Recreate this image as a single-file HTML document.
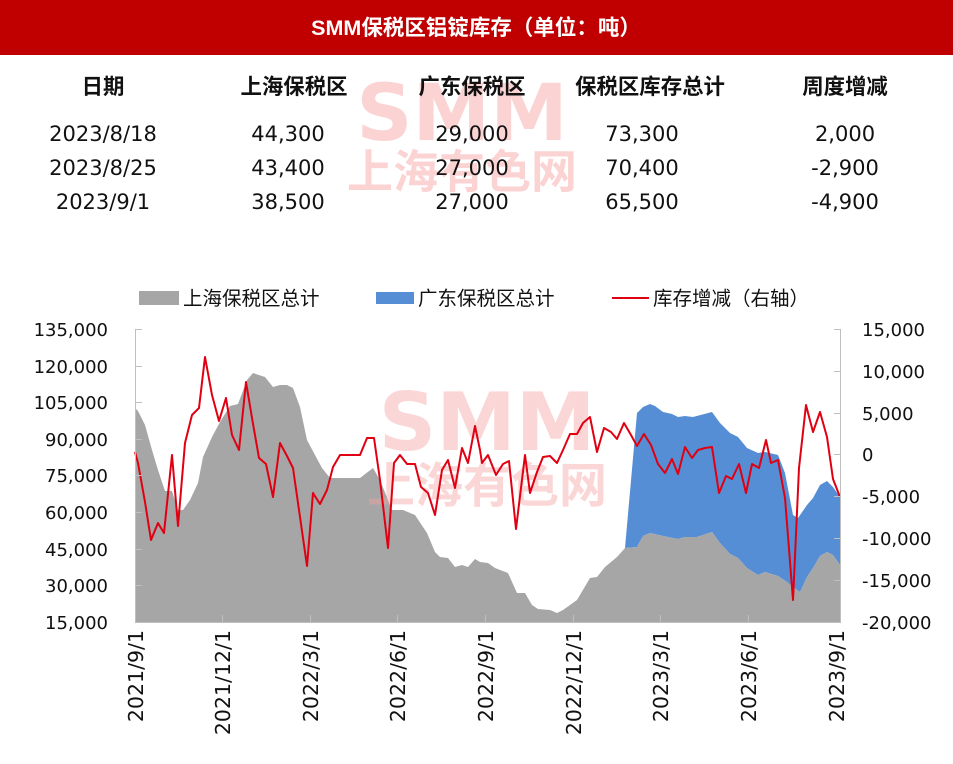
<!DOCTYPE html>
<html><head><meta charset="utf-8"><style>
body{margin:0;width:953px;height:764px;background:#fff;overflow:hidden;font-family:"Liberation Sans","Noto Sans CJK SC",sans-serif;}
</style></head><body>
<svg width="953" height="764" xmlns="http://www.w3.org/2000/svg" style="position:absolute;left:0;top:0" font-family="Liberation Sans, Noto Sans CJK SC, sans-serif">
<rect x="0" y="0" width="953" height="55" fill="#C00000"/>
<text x="476" y="35" fill="#fff" font-size="21.5" font-weight="bold" text-anchor="middle">SMM保税区铝锭库存（单位：吨）</text>
<g fill="#f7a0a0" opacity="0.45" font-weight="bold" text-anchor="middle">
<text x="462" y="140" font-size="78" font-family="DejaVu Sans, sans-serif">SMM</text>
<text x="462" y="188" font-size="46">上海有色网</text>
</g>
<g font-size="21.4" font-weight="bold" text-anchor="middle" fill="#111">
<text x="103" y="94">日期</text><text x="294" y="94">上海保税区</text><text x="472" y="94">广东保税区</text><text x="650" y="94">保税区库存总计</text><text x="845" y="94">周度增减</text>
</g>
<g font-size="21" text-anchor="middle" fill="#111" font-family="DejaVu Sans, sans-serif">
<text x="103" y="141">2023/8/18</text><text x="288" y="141">44,300</text><text x="472" y="141">29,000</text><text x="642" y="141">73,300</text><text x="845" y="141">2,000</text>
<text x="103" y="175">2023/8/25</text><text x="288" y="175">43,400</text><text x="472" y="175">27,000</text><text x="642" y="175">70,400</text><text x="845" y="175">-2,900</text>
<text x="103" y="209">2023/9/1</text><text x="288" y="209">38,500</text><text x="472" y="209">27,000</text><text x="642" y="209">65,500</text><text x="845" y="209">-4,900</text>
</g>
<!-- legend -->
<rect x="139" y="291" width="40" height="14" fill="#A6A6A6"/>
<text x="183" y="305" font-size="19.5" fill="#111">上海保税区总计</text>
<rect x="376" y="292" width="38" height="12" fill="#558ED5"/>
<text x="418" y="305" font-size="19.5" fill="#111">广东保税区总计</text>
<line x1="612" y1="298" x2="649" y2="298" stroke="#E00012" stroke-width="2"/>
<text x="653" y="305" font-size="19.5" fill="#111">库存增减（右轴）</text>
<!-- blue area -->
<path fill="#558ED5" d="M625,548 L637,413 643,407 650,404 655,406 663,412 672,414 678,417 685,416 693,417 712,412 720,423 730,433 738,437 747,448 758,453 765,452 778,455 785,473 793,515 798,518 807,505 813,498 820,485 827,481 833,487 840,497 L840,565 833,555 827,552 820,556 813,568 807,577 800,592 793,587 787,582 778,576 765,572 758,575 747,568 738,558 730,554 720,543 712,532 697,537 685,537 678,539 663,536 650,533 643,536 637,547 Z"/>
<!-- gray area -->
<path fill="#A6A6A6" d="M135,622 L135,408 138,411 145,425 152,450 158,470 165,491 172,491 178,510 183,510 190,500 198,483 203,457 212,437 220,422 230,406 238,404 247,380 253,373 265,377 273,387 280,385 287,385 293,388 300,407 307,440 315,455 322,468 330,478 360,478 373,468 380,480 392,510 403,510 415,515 427,533 435,552 440,557 448,558 455,567 462,565 468,567 475,559 480,562 488,563 495,568 508,573 517,593 525,593 532,605 538,609 550,610 557,613 563,610 577,600 590,578 597,577 605,567 617,557 625,548 637,547 643,536 650,533 663,536 678,539 685,537 697,537 712,532 720,543 730,554 738,558 747,568 758,575 765,572 778,576 787,582 793,587 800,592 807,577 813,568 820,556 827,552 833,555 840,565 L840,622 Z"/>
<g fill="#f7a0a0" opacity="0.42" font-weight="bold" text-anchor="middle">
<text x="487" y="450" font-size="80" font-family="DejaVu Sans, sans-serif">SMM</text>
<text x="487" y="502" font-size="48">上海有色网</text>
</g>
<!-- red line -->
<polyline fill="none" stroke="#E00012" stroke-width="2" stroke-linejoin="round" points="135,452 138,463 145,502 151,540 158,523 164,533 172,455 178,526 185,443 192,415 199,408 205,357 212,395 219,421 226,398 232,435 239,450 246,382 252,418 259,458 266,464 273,497 280,443 287,456 293,468 307,566 313,493 320,504 327,490 333,467 340,455 360,455 367,438 374,438 380,480 388,548 394,463 400,455 407,464 415,464 421,487 428,493 435,515 442,470 448,460 455,488 462,448 468,463 475,426 480,450 482,463 488,455 496,475 503,464 509,461 516,529 525,455 530,493 537,472 543,457 550,456 557,463 563,450 570,434 577,434 583,423 590,417 597,452 604,428 611,432 617,439 624,423 631,435 637,446 644,434 651,445 658,464 665,473 672,459 678,474 685,447 692,458 698,450 705,448 712,447 719,493 726,476 732,479 739,464 746,493 752,464 759,468 766,440 771,463 778,460 785,498 793,600 799,468 806,405 813,432 820,412 827,437 833,479 840,497"/>
<!-- axes -->
<g stroke="#BFBFBF" stroke-width="1" fill="none">
<line x1="135.5" y1="329" x2="135.5" y2="622"/>
<line x1="135" y1="622.5" x2="841" y2="622.5"/>
<line x1="840.5" y1="329" x2="840.5" y2="622"/>
<path d="M135,329.5h7M135,366.5h7M135,402.5h7M135,439.5h7M135,475.5h7M135,512.5h7M135,549.5h7M135,585.5h7"/>
<path d="M841,329.5h-7M841,371.5h-7M841,413.5h-7M841,454.5h-7M841,496.5h-7M841,538.5h-7M841,580.5h-7"/>
<path d="M222.5,622v-7M310.5,622v-7M397.5,622v-7M485.5,622v-7M573.5,622v-7M660.5,622v-7M748.5,622v-7"/>
</g>
<g font-size="18" fill="#111" text-anchor="end" font-family="DejaVu Sans, sans-serif">
<text x="108" y="336">135,000</text><text x="108" y="373">120,000</text><text x="108" y="409">105,000</text><text x="108" y="446">90,000</text><text x="108" y="482">75,000</text><text x="108" y="519">60,000</text><text x="108" y="556">45,000</text><text x="108" y="592">30,000</text><text x="108" y="629">15,000</text>
</g>
<g font-size="18" fill="#111" font-family="DejaVu Sans, sans-serif">
<text x="862" y="336">15,000</text><text x="862" y="378">10,000</text><text x="862" y="420">5,000</text><text x="862" y="461">0</text><text x="862" y="503">-5,000</text><text x="862" y="545">-10,000</text><text x="862" y="587">-15,000</text><text x="862" y="629">-20,000</text>
</g>
<g font-size="20.5" fill="#111" text-anchor="end" font-family="DejaVu Sans, sans-serif">
<text transform="translate(143,630) rotate(-90)">2021/9/1</text>
<text transform="translate(230,630) rotate(-90)">2021/12/1</text>
<text transform="translate(318,630) rotate(-90)">2022/3/1</text>
<text transform="translate(405,630) rotate(-90)">2022/6/1</text>
<text transform="translate(493,630) rotate(-90)">2022/9/1</text>
<text transform="translate(581,630) rotate(-90)">2022/12/1</text>
<text transform="translate(668,630) rotate(-90)">2023/3/1</text>
<text transform="translate(756,630) rotate(-90)">2023/6/1</text>
<text transform="translate(844,630) rotate(-90)">2023/9/1</text>
</g>
</svg>
</body></html>
